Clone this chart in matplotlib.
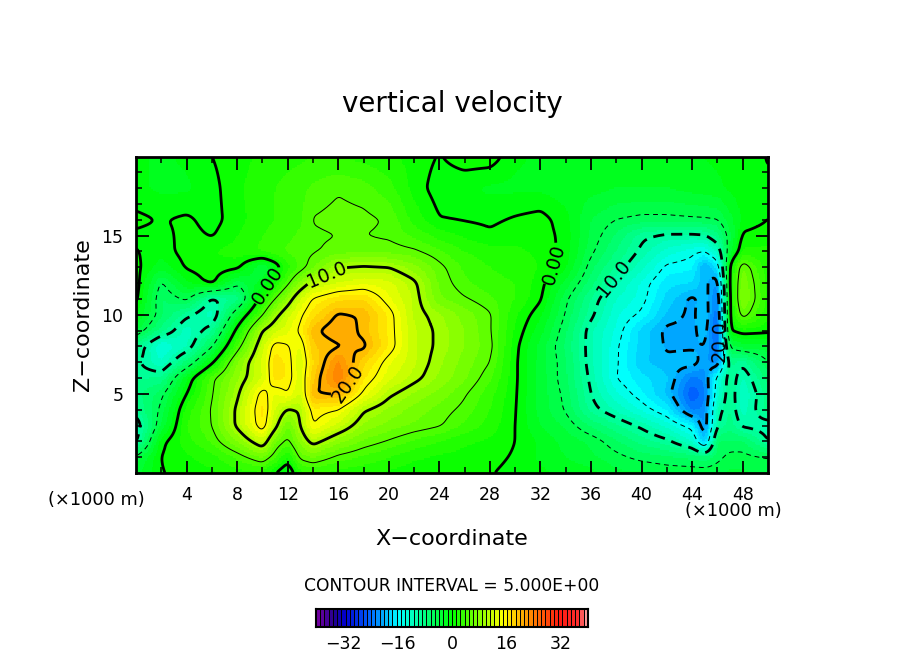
import numpy as np
import matplotlib
matplotlib.use("Agg")
import matplotlib.pyplot as plt
from matplotlib.colors import LinearSegmentedColormap, BoundaryNorm

# positions of the values (km)
x_km = [0, 2, 4, 6, 8, 10, 11, 12, 13, 14, 16, 18, 20, 22, 24, 26, 28, 30, 32, 34,
        36, 38, 40, 42, 44, 45, 46, 47, 48, 50]
z_km = [20, 18, 16, 15, 14, 13, 12, 11, 10, 9, 8, 7, 6, 5, 4, 3, 2, 1, 0]

# vertical velocity, one list per height
w_z20 = [-1, -1.5, -1, 0, .8, 1.5, 1.8, 2, 2.2, 2.5, 2.5, 2, 1.5, .8, -.1, .8, .8, -1, -1.5, -1.5, -1.5, -1.5, -1.5, -1.5, -1.5, -1.2, -1, -1, -.8, .1]
w_z18 = [-1, -1.5, -1.5, -.5, 1, 2, 2.5, 3, 3.4, 4, 4.8, 4.3, 3, .8, -.8, -1, -1.5, -1.5, -1.5, -2, -2, -2.5, -2.5, -2.5, -2, -1.8, -1.5, -1, -.5, -.2]
w_z16 = [.4, -.1, .3, -.6, .8, 2, 2.5, 3, 3.5, 5.1, 5.6, 5.4, 4.8, 2, .1, -.1, -.3, .2, .6, -.8, -3.8, -5, -5.5, -5.5, -5.3, -5.2, -5, -3, -1, 0]
w_z15 = [-.3, -.5, .5, -.1, 1.2, 2.5, 3, 3.5, 4, 4.7, 5, 5, 4.7, 3.5, 2, 1, .3, .8, .7, -.5, -4, -6.5, -9.5, -10.5, -10.5, -10.2, -8, -4, .3, .8]
w_z14 = [.1, -.8, .7, 1.2, 1.8, 2.8, 3.4, 4, 4.4, 4.8, 5.6, 6, 5.8, 5.3, 4, 2.5, 1.8, 1.5, 1, -.6, -4.6, -7.5, -10.5, -13, -14.5, -15, -12, -3, 1.5, 1.5]
w_z13 = [.5, -2, .2, 1, .5, -4, -1.5, 2, 4, 6, 9.9, 10.3, 10, 8, 5.5, 3.5, 2.5, 2, 1.2, -1, -5.8, -9, -12, -15.5, -16, -20.5, -17, .5, 6.5, 1.5]
w_z12 = [.8, -5.3, -1.5, .5, -4.5, -2, 1, 4.5, 8, 11, 12.5, 13.5, 13, 10.5, 6, 4, 3, 2.5, .6, -3, -6.9, -11, -14, -17, -17.5, -19.5, -21.5, 1, 7.5, 2]
w_z11 = [.5, -6.5, -4.5, -10.5, -8.5, 1.5, 5, 8.5, 12.5, 15.2, 17.2, 17.5, 14, 11, 6.5, 5.2, 4, 2.5, .2, -4.6, -8.8, -12.5, -14.3, -18, -20.5, -19, -23, .5, 8, 2]
w_z10 = [-1, -6, -9.5, -12, -3, 4.8, 9, 12, 14.5, 17, 20.3, 19.8, 16, 11, 9, 7, 5.2, 1.5, -1, -5.2, -9.5, -13.5, -15.4, -19, -20.5, -18.5, -24, .5, 6, 1.5]
w_z9 = [-3.5, -8, -12, -9, .8, 10, 12, 13.5, 15.5, 19.5, 21.5, 19.5, 16, 11.5, 9.5, 7.5, 5.2, 1, -2, -6, -11, -14, -18, -20.5, -20.5, -19, -25, 0, .8, .5]
w_z8 = [-8, -14, -11.5, -5.2, 3.8, 12, 16, 15.2, 13.5, 18.5, 19.7, 20.5, 16.2, 11.5, 9.5, 7.5, 5.5, .5, -3, -6.5, -11, -14.7, -18, -20.3, -20.3, -20, -24, -4.5, -3, -3]
w_z7 = [-9.5, -12.5, -7, -.5, 7.5, 13, 17, 16, 12.5, 17.5, 23, 18, 14, 11.5, 9, 7, 5, .3, -3, -6, -11, -14.7, -18.5, -19.5, -19, -21, -22, -8.5, -9.5, -5]
w_z6 = [-9, -8.5, -1.5, 4.5, 8.5, 12.5, 17, 16, 13, 18.5, 24, 16.5, 13, 10.7, 8.5, 6.5, 4, .3, -3, -6, -10.5, -15, -17, -18.5, -23, -22, -14, -8.5, -11.5, -7]
w_z5 = [-8, -5.5, 0, 4.8, 9.5, 16, 13.5, 15, 12, 20, 20.3, 14.5, 10.5, 8.5, 7, 5.2, 3, .2, -3, -5.5, -10, -13.5, -16, -19, -25, -23, -13, -8.5, -12.5, -8]
w_z4 = [-9, -4.5, 1.8, 5.2, 10.5, 17, 12.5, 9.8, 10.3, 16, 15, 10.3, 8.5, 7, 5.8, 4.5, 2.5, .1, -3, -5.2, -9.2, -11.5, -14, -16.5, -23, -22, -11, -8.5, -12, -8]
w_z3 = [-11.5, -3.5, 2.5, 5, 10.5, 16.5, 11, 6, 10, 15, 12, 8.5, 7, 6, 5.2, 3.5, 2, 0, -2.5, -4, -6.5, -8.5, -10.5, -13, -16, -22, -10, -8, -10.5, -11]
w_z2 = [-10.5, -.5, 2, 4, 7.5, 12, 6.5, 4.5, 8, 11, 8, 6, 4.8, 3.5, 2.5, 1.5, 1, 0, -1.5, -3, -4, -6, -8, -9.5, -12.5, -19, -6, -6, -6, -10]
w_z1 = [-4.5, .1, 1, 2, 4, 6.5, 4, 1, 5.5, 6.5, 4.5, 3.5, 2.5, 1.5, 1, .8, .5, -.2, -1.5, -2.5, -3.5, -4.5, -5.5, -6, -6.5, -7, -5.5, -4.5, -4.5, -5]
w_z0 = [-3, -.1, .5, 1, 2, 2, 0, -2, 2, 2.5, 2, 1.5, 1, .5, .1, .3, .1, -.5, -1, -1.5, -2, -3.5, -3.5, -4, -4, -4, -4, -3.5, -3.5, -4]

x_ticks = [4, 8, 12, 16, 20, 24, 28, 32, 36, 40, 44, 48]
z_ticks = [5, 10, 15]
bar_ticks = [-32, -16, 0, 16, 32]

FIG_W, FIG_H = 904, 654


def fx(px):
    return px / FIG_W


def fy(py):
    return 1 - py / FIG_H


def smooth(field, size):
    kernel = np.ones(size) / size
    for axis in (0, 1):
        pad = [(0, 0), (0, 0)]
        pad[axis] = (size // 2, size // 2)
        padded = np.pad(field, pad, mode="edge")
        field = np.apply_along_axis(lambda m: np.convolve(m, kernel, mode="valid"), axis, padded)
    return field


def fine_field():
    rows = np.array([w_z20, w_z18, w_z16, w_z15, w_z14, w_z13, w_z12, w_z11, w_z10, w_z9,
                     w_z8, w_z7, w_z6, w_z5, w_z4, w_z3, w_z2, w_z1, w_z0])[::-1]
    z_up = np.array(z_km)[::-1]
    xf = np.linspace(0, 50, 501)
    zf = np.linspace(0, 20, 201)
    by_x = np.array([np.interp(xf, x_km, r) for r in rows])
    field = np.array([np.interp(zf, z_up, by_x[:, i]) for i in range(len(xf))]).T
    field = smooth(smooth(field, 5), 3)
    return xf, zf, field


cmap = LinearSegmentedColormap.from_list("ncar", [
    (0.0, "#7000a0"), (0.06, "#200090"), (0.10, "#0000d0"), (0.19, "#0060ff"),
    (0.30, "#00ffff"), (0.50, "#00ff00"), (0.69, "#ffff00"), (0.80, "#ff8000"),
    (0.90, "#ff1a10"), (0.975, "#ff3030"), (1.0, "#ff9a9a")], N=64)
levels = np.linspace(-40, 40, 65)
norm = BoundaryNorm(levels, 64)

fig = plt.figure(figsize=(FIG_W / 100, FIG_H / 100), dpi=100)
ax = fig.add_axes([fx(136), fy(473), fx(632), 316.5 / FIG_H])

xf, zf, field = fine_field()
ax.pcolormesh(xf, zf, field, cmap=cmap, norm=norm, shading="nearest")

dash = (0, (4, 2.5))
thin_dash = (0, (5, 4))
label_font = dict(fontsize=13.5, inline=True, inline_spacing=1)


def draw_level(level, width, style, text=None, spots=None):
    cs = ax.contour(xf, zf, field, levels=[level], colors="k", linewidths=width, linestyles=[style])
    if text:
        ax.clabel(cs, fmt=text, manual=spots, **label_font)


draw_level(0, 2.0, "solid", "0.00", [(10.2, 12.0), (33.0, 13.2)])
draw_level(10, 2.0, "solid", "10.0", [(15.0, 12.7)])
draw_level(20, 2.0, "solid", "20.0", [(16.7, 5.7)])
draw_level(5, 0.7, "solid")
draw_level(15, 0.7, "solid")
draw_level(-10, 2.0, dash, "10.0", [(38.0, 12.2)])
draw_level(-20, 2.0, dash, "20.0", [(45.6, 8.3)])
draw_level(-5, 0.7, thin_dash)
draw_level(-15, 0.7, thin_dash)

ax.set_xlim(0, 50)
ax.set_ylim(0, 20)
ax.set_xticks(x_ticks)
ax.set_xticks(range(2, 50, 4), minor=True)
ax.set_yticks(z_ticks)
ax.set_yticks(range(1, 20), minor=True)
ax.tick_params(which="major", direction="in", length=9, width=1.3, top=True, right=True, labelsize=12.5, pad=9)
ax.tick_params(which="minor", direction="in", length=4, width=1.1, top=True, right=True)
for spine in ax.spines.values():
    spine.set_linewidth(2)

fig.text(fx(452), fy(104), "vertical velocity", fontsize=20, ha="center", va="center")
fig.text(fx(452), fy(539), "X\u2212coordinate", fontsize=16, ha="center", va="center")
fig.text(fx(83), fy(315), "Z\u2212coordinate", fontsize=16, ha="center", va="center", rotation=90)
fig.text(fx(96), fy(500), "(\u00d71000 m)", fontsize=12.8, ha="center", va="center")
fig.text(fx(733), fy(511), "(\u00d71000 m)", fontsize=12.8, ha="center", va="center")
fig.text(fx(452), fy(586), "CONTOUR INTERVAL = 5.000E+00", fontsize=12.3, ha="center", va="center")

# colour bar with black gaps between the cells
cax = fig.add_axes([fx(316), fy(627), 272 / FIG_W, 18 / FIG_H])
cax.pcolormesh(levels, [0, 1], np.array([(levels[:-1] + levels[1:]) / 2]), cmap=cmap, norm=norm,
               edgecolors="k", linewidth=0.6)
cax.set_xlim(-40, 40)
cax.set_xticks(bar_ticks)
cax.set_xticklabels([str(t).replace("-", "\u2212") for t in bar_ticks], fontsize=12.5)
cax.tick_params(length=0, pad=6)
cax.set_yticks([])
for spine in cax.spines.values():
    spine.set_linewidth(1.5)

fig.savefig("out.png", dpi=100)
